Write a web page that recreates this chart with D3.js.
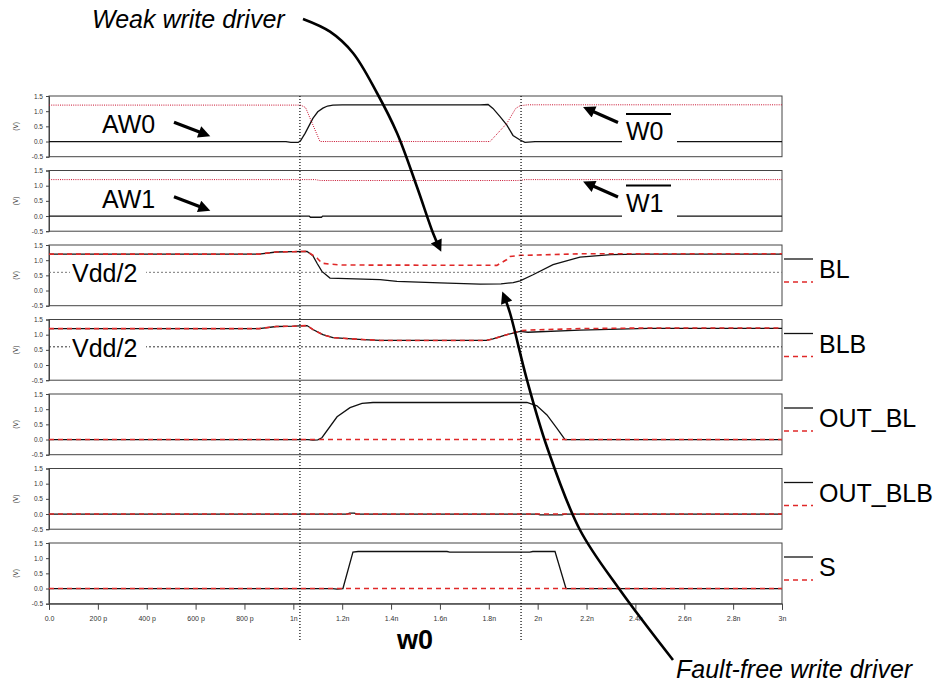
<!DOCTYPE html>
<html><head><meta charset="utf-8">
<script src="https://cdn.jsdelivr.net/npm/d3@7"></script>
<style>
body{margin:0;background:#fff}
svg{display:block}
text{font-family:"Liberation Sans",Arial,Helvetica,sans-serif}
</style>
</head><body>
<svg id="c" width="938" height="684"></svg>
<script>
// ---------------- DATA ----------------
const timeTicks = [0,0.2,0.4,0.6,0.8,1.0,1.2,1.4,1.6,1.8,2.0,2.2,2.4,2.6,2.8,3.0];
const timeTickLabels = ["0.0","200 p","400 p","600 p","800 p","1n","1.2n","1.4n","1.6n","1.8n","2n","2.2n","2.4n","2.6n","2.8n","3n"];
const voltTicks = [-0.5,0,0.5,1.0,1.5];
const voltTickLabels = ["-0.5","0.0","0.5","1.0","1.5"];
const markerTimes = [1.027, 1.932];
const vddHalf = 0.6;

// panel 1: AW0 (black) and W0-bar (red dotted)
const aw0T = [0,0.97,0.99,1.02,1.03,1.048,1.08,1.10,1.121,1.14,1.162,1.20,1.764,1.797,1.817,1.846,1.874,1.899,1.928,1.948,1.989,3.0];
const aw0V = [0,0,-0.03,-0.03,0.03,0.27,0.76,0.98,1.10,1.17,1.20,1.21,1.21,1.22,1.09,0.82,0.54,0.20,0.05,-0.03,0,0];
const w0bT = [0,1.03,1.05,1.08,1.109,1.13,1.805,1.874,1.91,1.928,1.96,3.0];
const w0bV = [1.2,1.2,1.12,0.55,0.0,0.0,0.0,0.6,1.09,1.18,1.21,1.21];
// panel 2: AW1 (black) and W1-bar (red dotted)
const aw1T = [0,1.065,1.07,1.115,1.12,3.0];
const aw1V = [0,0,-0.04,-0.04,0,0];
const w1bT = [0,1.09,1.11,1.92,1.95,3.0];
const w1bV = [1.2,1.2,1.17,1.17,1.2,1.2];
// panel 3: BL (black) and fault-free BL (red dashed)
const blT = [0,0.86,0.93,1.0,1.056,1.08,1.097,1.117,1.15,1.355,1.424,1.6,1.764,1.85,1.90,1.928,1.981,2.063,2.173,2.30,2.42,3.0];
const blV = [1.2,1.2,1.27,1.28,1.29,1.15,0.90,0.63,0.41,0.36,0.30,0.25,0.21,0.22,0.26,0.32,0.52,0.85,1.10,1.18,1.20,1.20];
const blRefT = [0,0.86,0.93,1.0,1.056,1.097,1.117,1.15,1.20,1.833,1.874,1.887,1.928,2.0,2.173,2.4,3.0];
const blRefV = [1.2,1.2,1.27,1.28,1.29,1.07,0.90,0.87,0.84,0.83,1.02,1.12,1.16,1.17,1.21,1.21,1.21];
// panel 4: BLB
const blbT = [0,0.86,0.93,1.0,1.056,1.08,1.121,1.162,1.285,1.355,1.79,1.817,1.874,1.928,1.96,2.173,2.45,3.0];
const blbV = [1.2,1.2,1.27,1.28,1.30,1.17,1.00,0.90,0.84,0.81,0.81,0.86,1.00,1.11,1.08,1.15,1.21,1.21];
const blbRefT = [0,0.86,0.93,1.0,1.056,1.08,1.121,1.162,1.285,1.355,1.79,1.817,1.874,1.928,1.96,2.173,2.45,3.0];
const blbRefV = [1.2,1.2,1.27,1.28,1.30,1.17,1.00,0.90,0.84,0.81,0.81,0.86,1.00,1.13,1.15,1.20,1.22,1.22];
// panel 5: OUT_BL
const outblT = [0,1.06,1.08,1.10,1.117,1.179,1.232,1.281,1.326,1.956,1.997,2.038,2.079,2.112,3.0];
const outblV = [0,0,-0.02,-0.01,0.06,0.75,1.05,1.19,1.22,1.22,1.11,0.81,0.37,0,0];
const outblRefT = [0,3.0];
const outblRefV = [0,0];
// panel 6: OUT_BLB
const outblbT = [0,1.22,1.23,1.25,1.26,2.0,2.01,2.10,2.11,3.0];
const outblbV = [0,0,0.03,0.03,0,0,-0.03,-0.03,0,0];
const outblbRefT = [0,3.0];
const outblbRefV = [0,0];
// panel 7: S
const sT = [0,1.16,1.179,1.203,1.244,1.265,1.629,1.64,1.968,1.98,2.071,2.116,3.0];
const sV = [0,0,-0.02,0,1.20,1.22,1.22,1.20,1.20,1.22,1.22,0,0];
const sRefT = [0,3.0];
const sRefV = [0,0];

const legendLabels = ["BL","BLB","OUT_BL","OUT_BLB","S"];

// ---------------- LAYOUT ----------------
const svg = d3.select("#c");
const X0 = 49, X1 = 782;
const x = d3.scaleLinear().domain([0,3]).range([X0,X1]);
const panelTop = i => 96 + i*74.5;
const panelH = 60.7;
const yOf = i => d3.scaleLinear().domain([-0.5,1.5]).range([panelTop(i)+panelH, panelTop(i)]);
const zip = (t,v) => t.map((d,i)=>[d,v[i]]);

const panels = [
  {solid: zip(aw0T,aw0V), dotted: zip(w0bT,w0bV)},
  {solid: zip(aw1T,aw1V), dotted: zip(w1bT,w1bV)},
  {solid: zip(blT,blV), dashed: zip(blRefT,blRefV), vdd:true},
  {solid: zip(blbT,blbV), dashed: zip(blbRefT,blbRefV), vdd:true},
  {solid: zip(outblT,outblV), dashed: zip(outblRefT,outblRefV)},
  {solid: zip(outblbT,outblbV), dashed: zip(outblbRefT,outblbRefV)},
  {solid: zip(sT,sV), dashed: zip(sRefT,sRefV)}
];

const defs = svg.append("defs");
defs.append("marker").attr("id","ah").attr("viewBox","0 0 10 10")
  .attr("refX",5).attr("refY",5).attr("markerWidth",15).attr("markerHeight",12)
  .attr("markerUnits","userSpaceOnUse").attr("orient","auto")
  .append("path").attr("d","M0,0L10,5L0,10z").attr("fill","#000");

panels.forEach((p,i)=>{
  const y = yOf(i);
  const top = panelTop(i);
  defs.append("clipPath").attr("id","clip"+i).append("rect")
    .attr("x",X0).attr("y",top).attr("width",X1-X0).attr("height",panelH);
  const g = svg.append("g");
  g.append("rect").attr("x",X0).attr("y",top).attr("width",X1-X0).attr("height",panelH)
    .attr("fill","#fff").attr("stroke","#444").attr("stroke-width",1);
  const ax = g.append("g").attr("transform",`translate(${X0},0)`)
    .call(d3.axisLeft(y).tickValues(voltTicks).tickFormat((d,k)=>voltTickLabels[k]).tickSize(3).tickPadding(3));
  ax.select(".domain").attr("stroke","#444");
  ax.selectAll("line").attr("stroke","#444");
  ax.selectAll("text").attr("font-size","6.5px").attr("fill","#333").style("font-family","'Liberation Sans',Arial,sans-serif");
  g.append("text").attr("transform",`translate(18,${top+panelH/2}) rotate(-90)`)
    .attr("text-anchor","middle").attr("font-size","6.5px").attr("fill","#333").text("(V)");
  const pg = g.append("g").attr("clip-path",`url(#clip${i})`);
  const line = d3.line().x(d=>x(d[0])).y(d=>y(d[1]));
  if (p.vdd) {
    pg.append("line").attr("x1",X0).attr("x2",X1).attr("y1",y(vddHalf)).attr("y2",y(vddHalf))
      .attr("stroke", i===2 ? "#777" : "#333").attr("stroke-width",1).attr("stroke-dasharray","2,2");
  }
  pg.append("path").attr("d",line(p.solid)).attr("fill","none").attr("stroke","#111").attr("stroke-width",1.3);
  if (p.dotted) pg.append("path").attr("d",line(p.dotted)).attr("fill","none").attr("stroke","#c8102e")
      .attr("stroke-width",1).attr("stroke-dasharray","1,1.2");
  if (p.dashed) pg.append("path").attr("d",line(p.dashed)).attr("fill","none").attr("stroke","#e02828")
      .attr("stroke-width",1.6).attr("stroke-dasharray","5,4");
  if (p.vdd) {
    g.append("rect").attr("x",70).attr("y",top+17).attr("width",76).attr("height",24).attr("fill","#fff");
    g.append("text").attr("x",72).attr("y",top+37).attr("font-size","25px").attr("fill","#000").text("Vdd/2");
  }
  if (i>=2) {
    const lg = svg.append("g");
    lg.append("line").attr("x1",784).attr("x2",813).attr("y1",top+14).attr("y2",top+14).attr("stroke","#111").attr("stroke-width",1.3);
    lg.append("line").attr("x1",784).attr("x2",813).attr("y1",top+37).attr("y2",top+37).attr("stroke","#e02828")
      .attr("stroke-width",1.6).attr("stroke-dasharray","5,4");
    lg.append("text").attr("x",819).attr("y",top+33).attr("font-size","25px").attr("fill","#000").text(legendLabels[i-2]);
  }
});

// x axis
const xa = svg.append("g").attr("transform",`translate(0,${panelTop(6)+panelH})`)
  .call(d3.axisBottom(x).tickValues(timeTicks).tickFormat((d,k)=>timeTickLabels[k]).tickSize(6).tickPadding(6));
xa.select(".domain").attr("stroke","#444");
xa.selectAll("line").attr("stroke","#444");
xa.selectAll("text").attr("font-size","7px").attr("fill","#333").style("font-family","'Liberation Sans',Arial,sans-serif");

// vertical dotted markers
markerTimes.forEach(t=>{
  svg.append("line").attr("x1",x(t)).attr("x2",x(t)).attr("y1",panelTop(0)).attr("y2",640)
    .attr("stroke","#000").attr("stroke-width",1.2).attr("stroke-dasharray","1,2");
});

// ---------------- ANNOTATIONS ----------------
function shorten(a,b,d){const dx=b[0]-a[0],dy=b[1]-a[1],L=Math.hypot(dx,dy);return [b[0]-dx/L*d,b[1]-dy/L*d];}
function straightArrow(tail,tip){
  const e = shorten(tail,tip,7.5);
  svg.append("line").attr("x1",tail[0]).attr("y1",tail[1]).attr("x2",e[0]).attr("y2",e[1])
    .attr("stroke","#000").attr("stroke-width",3.2).attr("marker-end","url(#ah)");
}
// AW0 / AW1 labels
[["AW0",0],["AW1",1]].forEach(([lab,i])=>{
  const top = panelTop(i);
  svg.append("text").attr("x",102).attr("y",top+37.3).attr("font-size","25px").attr("fill","#000").text(lab);
  straightArrow([174,top+26.3],[211.7,top+40.7]);
});
// W0-bar / W1-bar labels
[["W0",0,44],["W1",1,41]].forEach(([lab,i,bl])=>{
  const top = panelTop(i);
  svg.append("rect").attr("x",622).attr("y",top+14).attr("width",55).attr("height",36).attr("fill","#fff");
  svg.append("text").attr("x",626).attr("y",top+bl).attr("font-size","25px").attr("fill","#000").text(lab);
  svg.append("line").attr("x1",626).attr("x2",671).attr("y1",top+bl-26).attr("y2",top+bl-26)
    .attr("stroke","#000").attr("stroke-width",2);
  straightArrow([618,top+26.5],[581.7,top+10.5]);
});

// curved arrows
const curve = d3.line().curve(d3.curveCatmullRom);
function curvedArrow(pts){
  const n = pts.length;
  const e = shorten(pts[n-2],pts[n-1],7.5);
  const p = pts.slice(0,n-1).concat([e]);
  svg.append("path").attr("d",curve(p)).attr("fill","none").attr("stroke","#000")
    .attr("stroke-width",2.6).attr("marker-end","url(#ah)");
}
curvedArrow([[303,19],[330,31.7],[353,53],[377,93],[397,133],[417,187],[433,233],[441.7,253.3]]);
curvedArrow([[673,660],[620,590],[580,530],[547,447],[527,380],[510,313],[502,290]]);

svg.append("text").attr("x",92).attr("y",28).attr("font-size","25px").attr("font-style","italic").attr("fill","#000").text("Weak write driver");
svg.append("text").attr("x",676).attr("y",678).attr("font-size","25px").attr("font-style","italic").attr("fill","#000").text("Fault-free write driver");
svg.append("text").attr("x",397).attr("y",649).attr("font-size","27px").attr("font-weight","bold").attr("fill","#000").text("w0");
</script>
</body></html>
